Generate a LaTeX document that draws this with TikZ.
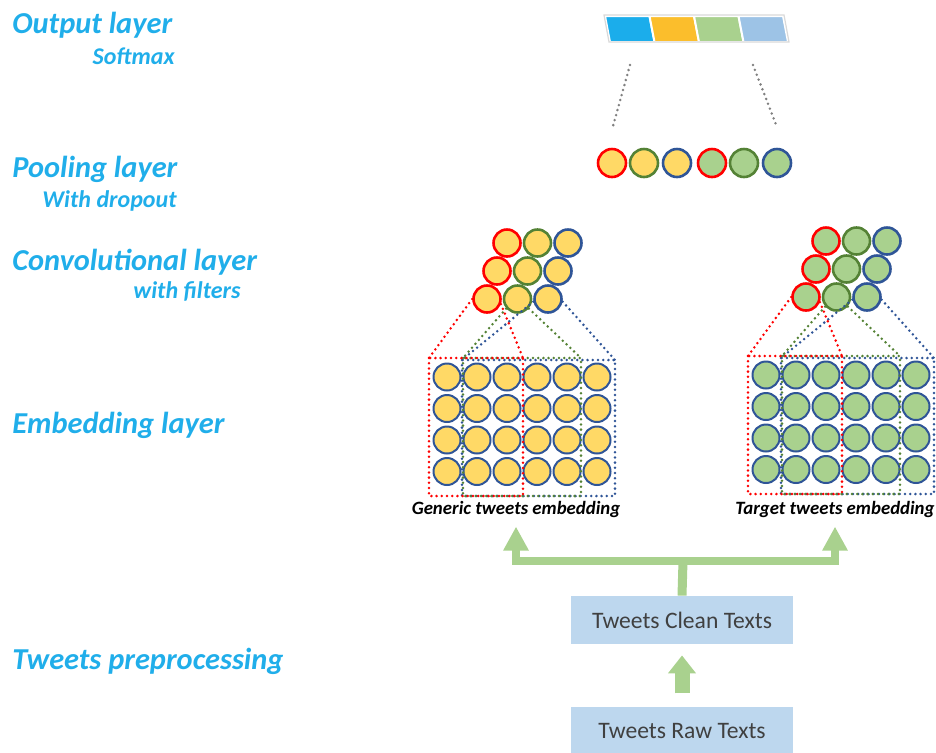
\documentclass[tikz,border=0pt]{standalone}
\usepackage{fontspec}
\setmainfont{Carlito}
\usepackage{tikz}
\usetikzlibrary{positioning, arrows.meta}
\definecolor{skyblue}{HTML}{20AEEA}
\definecolor{sunny}{HTML}{FFD966}
\definecolor{leaf}{HTML}{A9D18E}
\definecolor{steel}{HTML}{2F5597}
\definecolor{olive}{HTML}{548235}
\definecolor{paleblue}{HTML}{BDD7EE}
\definecolor{darktext}{HTML}{404040}
\definecolor{barblue}{HTML}{1BADEB}
\definecolor{barorange}{HTML}{FBBE2C}
\definecolor{barsky}{HTML}{9DC3E6}

\begin{document}
\begin{tikzpicture}[
  x=0.5pt, y=-0.5pt, node distance=31pt,
  layer/.style={anchor=base west, inner sep=0, text=skyblue, font=\fontsize{15.2}{17}\selectfont\bfseries\itshape},
  sublayer/.style={anchor=base east, inner sep=0, text=skyblue, font=\fontsize{12}{14}\selectfont\bfseries\itshape},
  unit/.style={circle, draw=steel, line width=1pt, minimum size=13.5pt, inner sep=0},
  filt/.style={line width=1.4pt, dash pattern=on 0pt off 2.6pt, line cap=round},
  embname/.style={inner sep=0, font=\fontsize{9.4}{11}\selectfont\bfseries\itshape},
  txtbox/.style={fill=paleblue, text=darktext, minimum width=111pt, minimum height=24pt, font=\fontsize{11.8}{14}\selectfont},
  fat/.style={draw=leaf, line width=4pt, line join=miter, -{Triangle[width=12pt,length=12pt]}}
]
\useasboundingbox (0,0) rectangle (936,752);

% layer names on the left
\node[layer] (outname) at (12,33) {Output layer};
\node[sublayer] (softname) at (175,64) {Softmax};
\node[layer] (poolname) at (12,177) {Pooling layer};
\node[sublayer] (dropname) at (177,207) {With dropout};
\node[layer] (convname) at (12,270) {Convolutional layer};
\node[sublayer] (filtname) at (241,298) {with filters};
\node[layer] (embname) at (12,433) {Embedding layer};
\node[layer] (prepname) at (12,669) {Tweets preprocessing};

% softmax output vector
\foreach \i/\fc in {0/barblue,1/barorange,2/leaf,3/barsky}
  \draw[white, line width=1pt, fill=\fc] ({605+44.5*\i},16) -- ++(44.5,0) -- ++(5,26) -- ++(-44.5,0) -- cycle;
\draw[gray!30, line width=0.6pt] (604,15) -- (784,15) -- (789,42) -- (609,42) -- cycle;

% pooled units
\foreach \i/\x/\fc/\oc in {1/612/sunny/red, 2/644/sunny/olive, 3/677/sunny/steel, 4/712/leaf/red, 5/744/leaf/olive, 6/777/leaf/steel}
  \node[unit, fill=\fc, draw=\oc, line width=1.3pt, minimum size=14pt] (p\i) at (\x,163) {};

\coordinate (vecL) at (630,65);
\coordinate (vecR) at (753,65);
\coordinate (poolL) at (613,126);
\coordinate (poolR) at (777,127);
\draw[filt, gray] (vecL) -- (poolL);
\draw[filt, gray] (vecR) -- (poolR);

% embedding grids, filters and conv maps
\foreach \side/\dx/\dy/\fc/\lbl in {gen/0/0/sunny/Generic, tgt/319/-2/leaf/Target} {
  \begin{scope}[shift={(\dx,\dy)}]
    \foreach \r in {1,...,4}
      \foreach \c in {1,...,6}
        \node[unit, fill=\fc] (\side-g\r\c) at ({417+30*\c},{345.5+31.5*\r}) {};
    \foreach \r/\xs in {1/507,2/497,3/487}
      \foreach \c/\oc in {1/red,2/olive,3/steel}
        \node[unit, fill=\fc, draw=\oc, line width=1.3pt] (\side-c\r\c) at ({\xs+30.5*(\c-1)},{215+28*\r}) {};
    \foreach \c/\oc/\xa/\xb/\ya/\aa/\ab in {3/steel/462/615/360/190/-10, 2/olive/463/581/358/220/-40, 1/red/429/523/358/180/-20} {
      \coordinate (\side-f\c-a) at (\xa,\ya);
      \coordinate (\side-f\c-b) at (\xb,\ya);
      \draw[filt, \oc] (\side-f\c-a) rectangle (\xb,496);
      \draw[filt, \oc] (\side-c3\c.\aa) -- (\side-f\c-a);
      \draw[filt, \oc] (\side-c3\c.\ab) -- (\side-f\c-b);
    }
    \node[embname] (\side) at (516,{509-\dy}) {\lbl\ tweets embedding};
  \end{scope}
}

% preprocessing
\node[txtbox] (clean) at (682,620) {Tweets Clean Texts};
\node[txtbox, below=of clean] (raw) {Tweets Raw Texts};

\coordinate (split) at (683,561);
\draw[leaf, line width=4.5pt] (clean.north) -- (split);
\draw[fat, shorten >=4.5pt] (split) -| (gen.south);
\draw[fat, shorten >=4.5pt] (split) -| (tgt.south);
\draw[leaf, line width=7.5pt, -{Triangle[width=13.5pt,length=9pt]}, shorten <=6.5pt, shorten >=5.5pt] (raw) -- (clean);
\end{tikzpicture}
\end{document}
